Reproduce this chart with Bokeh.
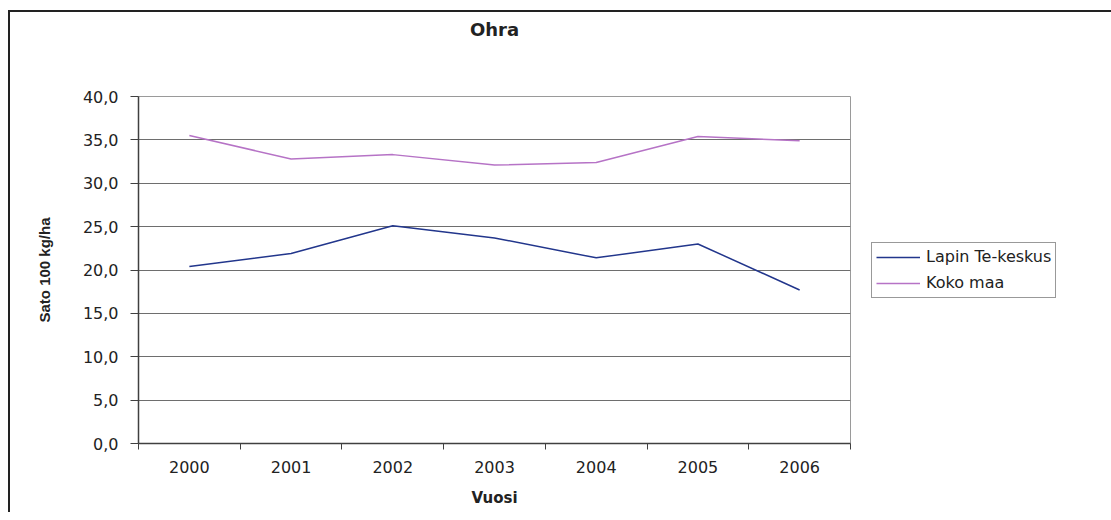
from bokeh.plotting import figure
from bokeh.models import (Range1d, FixedTicker, CustomJSTickFormatter, Legend,
                          LegendItem, ColumnDataSource, LinearAxis)
from bokeh.embed import file_html
from bokeh.resources import INLINE

title_text = "Ohra"
years = ["2000", "2001", "2002", "2003", "2004", "2005", "2006"]
lapin = [20.4, 21.9, 25.1, 23.7, 21.4, 23.0, 17.7]
koko_maa = [35.5, 32.8, 33.3, 32.1, 32.4, 35.4, 34.9]
series_names = ["Lapin Te-keskus", "Koko maa"]
y_ticks = [0, 5, 10, 15, 20, 25, 30, 35, 40]

xpos = list(range(len(years)))
src = ColumnDataSource(dict(x=xpos, lapin=lapin, koko=koko_maa))

FONT = "DejaVu Sans"
TXT = "#222222"

p = figure(frame_width=712, frame_height=347, output_backend="svg",
           toolbar_location=None,
           x_range=Range1d(-0.5, len(years) - 0.5), y_range=Range1d(0, 40),
           min_border_left=128, min_border_right=255, min_border_top=84,
           min_border_bottom=71,
           styles={"margin-left": "10px", "margin-top": "12px",
                   "box-shadow": "-2px -2px 0 0 #222222"})

p.background_fill_color = "white"
p.border_fill_color = "white"
p.outline_line_color = "#9a9a9a"
p.outline_line_width = 1

# x axis: labels at category centres, ticks at category boundaries
xax = p.below[0]
xax.ticker = FixedTicker(ticks=xpos,
                         minor_ticks=[i - 0.5 for i in range(len(years) + 1)])
xax.major_label_overrides = {i: y for i, y in zip(xpos, years)}
xax.major_tick_out = 0
xax.major_tick_in = 0
xax.minor_tick_out = 6
xax.minor_tick_in = 0
xax.minor_tick_line_color = "#404040"
xax.axis_line_color = "#404040"
xax.axis_line_width = 1.5
xax.major_label_standoff = 11
xax.major_label_text_font = FONT
xax.major_label_text_font_size = "16px"
xax.major_label_text_color = TXT
xax.axis_label = "Vuosi"
xax.axis_label_text_font = FONT
xax.axis_label_text_font_size = "15px"
xax.axis_label_text_font_style = "bold"
xax.axis_label_text_color = TXT
xax.axis_label_standoff = 13

# y axis
yax = p.left[0]
yax.ticker = FixedTicker(ticks=y_ticks, minor_ticks=[])
yax.formatter = CustomJSTickFormatter(code="return tick.toFixed(1).replace('.', ',');")
yax.major_tick_out = 8
yax.major_tick_in = 0
yax.minor_tick_out = 0
yax.minor_tick_in = 0
yax.major_tick_line_color = "#404040"
yax.axis_line_color = "#404040"
yax.axis_line_width = 1.5
yax.major_label_standoff = 12
yax.major_label_text_font = FONT
yax.major_label_text_font_size = "16px"
yax.major_label_text_color = TXT
yax.axis_label = "Sato 100 kg/ha"
yax.axis_label_text_font = "Liberation Sans"
yax.axis_label_text_font_size = "15px"
yax.axis_label_text_font_style = "bold"
yax.axis_label_text_color = TXT
yax.axis_label_standoff = 27

p.xgrid.grid_line_color = None
p.ygrid.ticker = FixedTicker(ticks=y_ticks)
p.ygrid.grid_line_color = "#6e6e6e"
p.ygrid.grid_line_width = 1

# title drawn as the label of a bare axis above the frame
top = LinearAxis(ticker=FixedTicker(ticks=[], minor_ticks=[]),
                 axis_line_color=None,
                 major_tick_line_color=None, minor_tick_line_color=None,
                 major_tick_out=0, major_tick_in=0, minor_tick_out=0,
                 minor_tick_in=0, major_label_standoff=0,
                 axis_label=title_text, axis_label_standoff=57,
                 axis_label_text_font=FONT, axis_label_text_font_size="18px",
                 axis_label_text_font_style="bold",
                 axis_label_text_color=TXT)
p.add_layout(top, "above")

r1 = p.line("x", "lapin", source=src, line_color="#22368c", line_width=1.5)
r2 = p.line("x", "koko", source=src, line_color="#b673c6", line_width=1.5)

legend = Legend(items=[LegendItem(label=series_names[0], renderers=[r1]),
                       LegendItem(label=series_names[1], renderers=[r2])],
                location="center_left", orientation="vertical",
                glyph_width=44, glyph_height=20, label_height=20,
                label_standoff=6, spacing=6, padding=4, margin=21,
                label_text_font=FONT, label_text_font_size="16px",
                label_text_color=TXT,
                border_line_color="#333333", border_line_width=1,
                background_fill_color="white", background_fill_alpha=1)
p.add_layout(legend, "right")

open("out.html", "w").write(file_html(p, INLINE))
